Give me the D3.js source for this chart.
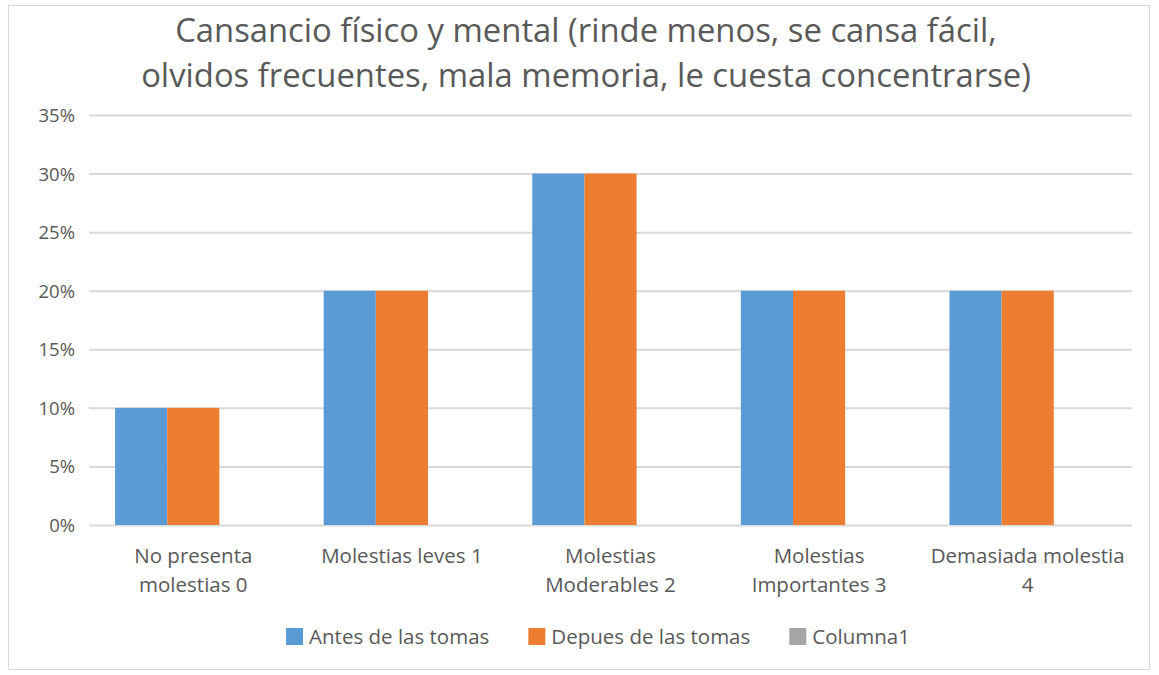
<!DOCTYPE html>
<html>
<head>
<meta charset="utf-8">
<script src="https://cdn.jsdelivr.net/npm/d3@7"></script>
<style>
  body { margin: 0; background: #fff; }
  text { font-family: "Open Sans", "DejaVu Sans", sans-serif; }
</style>
</head>
<body>
<div id="chart"></div>
<script>
// data
var categories = [
  ['No presenta', 'molestias 0'],
  ['Molestias leves 1'],
  ['Molestias', 'Moderables 2'],
  ['Molestias', 'Importantes 3'],
  ['Demasiada molestia', '4']
];
var seriesNames = ['Antes de las tomas', 'Depues de las tomas', 'Columna1'];
var antes = [0.10, 0.20, 0.30, 0.20, 0.20];
var depues = [0.10, 0.20, 0.30, 0.20, 0.20];
var columna1 = [0, 0, 0, 0, 0];
var yTicks = [0, 0.05, 0.10, 0.15, 0.20, 0.25, 0.30, 0.35];
var titleLines = [
  'Cansancio físico y mental (rinde menos, se cansa fácil,',
  'olvidos frecuentes, mala memoria, le cuesta concentrarse)'
];

var config = {
  width: 1159,
  height: 675,
  left: 89,
  right: 1132,
  top: 115,
  bottom: 525,
  colors: ['#5B9BD5', '#ED7D31', '#A5A5A5'],
  gridColor: '#D9D9D9',
  textColor: '#595959'
};

var svg = d3.select('#chart').append('svg')
  .attr('width', config.width)
  .attr('height', config.height);

// chart border
svg.append('rect')
  .attr('x', 8.5).attr('y', 5.5)
  .attr('width', 1141).attr('height', 664)
  .attr('fill', '#fff')
  .attr('stroke', '#D9D9D9');

// title
svg.selectAll('text.title').data(titleLines).enter().append('text')
  .attr('class', 'title')
  .attr('x', 586)
  .attr('y', function(d, i) { return 42 + i * 45; })
  .attr('text-anchor', 'middle')
  .attr('font-size', 32.8)
  .attr('fill', config.textColor)
  .text(function(d) { return d; });

var y = d3.scaleLinear().domain([0, 0.35]).range([config.bottom, config.top]);
var x0 = d3.scaleBand().domain(d3.range(categories.length))
  .range([config.left, config.right]).paddingInner(0).paddingOuter(0);
var bw = x0.bandwidth();
var x1 = d3.scaleBand().domain(d3.range(seriesNames.length))
  .range([bw / 8, bw - bw / 8]).padding(0);

// gridlines + y labels
var yAxis = d3.axisLeft(y).tickValues(yTicks)
  .tickFormat(d3.format('.0%'))
  .tickSize(-(config.right - config.left));
var ga = svg.append('g')
  .attr('transform', 'translate(' + config.left + ',0)')
  .call(yAxis);
ga.select('.domain').remove();
ga.selectAll('line').attr('stroke', config.gridColor).attr('stroke-width', 2);
ga.selectAll('text')
  .attr('x', -14)
  .attr('dy', '0.35em')
  .attr('fill', config.textColor)
  .attr('font-size', 18.5)
  .attr('font-family', '"Open Sans", sans-serif');

// bars
var allSeries = [antes, depues, columna1];
var groups = svg.selectAll('g.series').data(allSeries).enter().append('g')
  .attr('class', 'series')
  .attr('fill', function(d, i) { return config.colors[i]; });
groups.selectAll('rect').data(function(d, i) {
    return d.map(function(v, c) { return { v: v, c: c, s: i }; });
  }).enter().append('rect')
  .attr('x', function(d) { return x0(d.c) + x1(d.s); })
  .attr('width', x1.bandwidth())
  .attr('y', function(d) { return y(d.v); })
  .attr('height', function(d) { return y(0) - y(d.v); });

// category labels
var cl = svg.selectAll('text.cat').data(categories).enter().append('text')
  .attr('class', 'cat')
  .attr('text-anchor', 'middle')
  .attr('font-size', 20.5)
  .attr('fill', config.textColor);
cl.selectAll('tspan').data(function(d, i) {
    return d.map(function(t) { return { t: t, c: i }; });
  }).enter().append('tspan')
  .attr('x', function(d) { return x0(d.c) + bw / 2; })
  .attr('y', function(d, j) { return 563 + j * 29; })
  .text(function(d) { return d.t; });

// legend: laid out from measured text widths, centred
var sq = 17, sqGap = 6, itemGap = 39, legendCenter = 598;
var lg = svg.selectAll('g.legend').data(seriesNames).enter().append('g')
  .attr('class', 'legend');
lg.append('rect')
  .attr('y', 628)
  .attr('width', sq).attr('height', sq)
  .attr('fill', function(d, i) { return config.colors[i]; });
lg.append('text')
  .attr('x', sq + sqGap).attr('y', 644)
  .attr('font-size', 20.5)
  .attr('fill', config.textColor)
  .text(function(d) { return d; });
var widths = [];
lg.select('text').each(function() { widths.push(this.getComputedTextLength()); });
var total = d3.sum(widths) + widths.length * (sq + sqGap) + (widths.length - 1) * itemGap;
var cursor = legendCenter - total / 2;
lg.attr('transform', function(d, i) {
  var t = 'translate(' + cursor + ',0)';
  cursor += sq + sqGap + widths[i] + itemGap;
  return t;
});
</script>
</body>
</html>
